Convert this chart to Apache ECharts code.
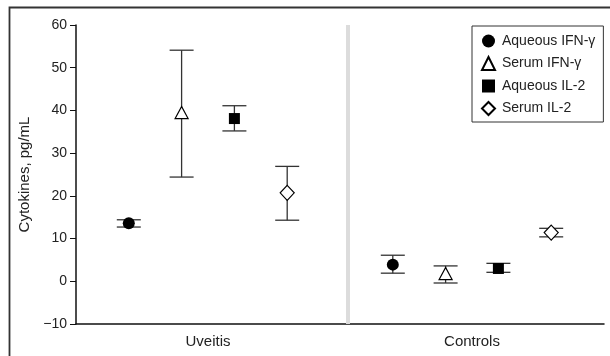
<!DOCTYPE html>
<html><head><meta charset="utf-8">
<script src="https://cdn.jsdelivr.net/npm/echarts@6/dist/echarts.min.js"></script>
<style>html,body{margin:0;padding:0;background:#fff}#c{width:610px;height:356px}</style>
</head><body><div id="c"></div>
<script>
// ---- data ----
const categories = ['Uveitis', 'Controls'];
const seriesNames = ['Aqueous IFN-\u03B3', 'Serum IFN-\u03B3', 'Aqueous IL-2', 'Serum IL-2'];
const aqueousIfnMean = [13.6, 3.9];
const aqueousIfnLow  = [12.7, 1.9];
const aqueousIfnHigh = [14.4, 6.1];
const serumIfnMean = [39.5, 1.8];
const serumIfnLow  = [24.4, -0.4];
const serumIfnHigh = [54.1, 3.6];
const aqueousIl2Mean = [38.1, 3.0];
const aqueousIl2Low  = [35.2, 2.1];
const aqueousIl2High = [41.1, 4.2];
const serumIl2Mean = [20.7, 11.4];
const serumIl2Low  = [14.3, 10.4];
const serumIl2High = [26.9, 12.4];
const yTicks = [-10, 0, 10, 20, 30, 40, 50, 60];

// ---- chart ----
const FONT = "'Liberation Sans Narrow', 'Arial Narrow', 'Liberation Sans', sans-serif";
const groups = [
  {mean: aqueousIfnMean, low: aqueousIfnLow, high: aqueousIfnHigh, symbol: 'circle', size: 12, fill: '#000'},
  {mean: serumIfnMean, low: serumIfnLow, high: serumIfnHigh, symbol: 'triangle', size: [13, 12], fill: '#fff'},
  {mean: aqueousIl2Mean, low: aqueousIl2Low, high: aqueousIl2High, symbol: 'rect', size: 11, fill: '#000'},
  {mean: serumIl2Mean, low: serumIl2Low, high: serumIl2High, symbol: 'diamond', size: [14, 15], fill: '#fff'}
];
const offsets = [-0.3, -0.1, 0.1, 0.3];
const series = [];
groups.forEach((g, i) => {
  const xs = categories.map((c, ci) => ci + 0.5 + offsets[i]);
  series.push({
    type: 'custom', xAxisIndex: 1, yAxisIndex: 0, z: 2, silent: true,
    data: xs.map((x, ci) => [x, g.low[ci], g.high[ci]]),
    encode: {x: 0, y: [1, 2]},
    renderItem(params, api) {
      const x = api.value(0);
      const lo = api.coord([x, api.value(1)]);
      const hi = api.coord([x, api.value(2)]);
      const hw = 12;
      const st = {stroke: '#333', lineWidth: 1.3};
      return {type: 'group', children: [
        {type: 'line', shape: {x1: lo[0], y1: lo[1], x2: hi[0], y2: hi[1]}, style: st},
        {type: 'line', shape: {x1: lo[0] - hw, y1: lo[1], x2: lo[0] + hw, y2: lo[1]}, style: st},
        {type: 'line', shape: {x1: hi[0] - hw, y1: hi[1], x2: hi[0] + hw, y2: hi[1]}, style: st}
      ]};
    }
  });
  series.push({
    name: seriesNames[i], type: 'scatter', xAxisIndex: 1, yAxisIndex: 0, z: 5,
    symbol: g.symbol, symbolSize: g.size,
    itemStyle: {color: g.fill, borderColor: '#000', borderWidth: g.fill === '#fff' ? 1.2 : 0, opacity: 1},
    data: xs.map((x, ci) => [x, g.mean[ci]]),
    markLine: i === 0 ? {
      silent: true, symbol: 'none', label: {show: false},
      lineStyle: {color: '#dcdcdc', width: 4, type: 'solid'},
      data: [{xAxis: 1.03}]
    } : undefined
  });
});

const chart = echarts.init(document.getElementById('c'), null, {renderer: 'canvas'});
chart.setOption({
  animation: false,
  backgroundColor: '#fff',
  textStyle: {fontFamily: FONT},
  graphic: [{type: 'rect', shape: {x: 9.5, y: 7.5, width: 800, height: 600}, style: {fill: 'none', stroke: '#333', lineWidth: 1.8}, silent: true}],
  grid: {left: 76, right: 6, top: 25, bottom: 32, containLabel: false},
  legend: {
    orient: 'vertical', left: 472, top: 26,
    data: seriesNames,
    itemWidth: 13, itemHeight: 13, itemGap: 8,
    padding: [8, 8, 6, 9],
    borderColor: '#333', borderWidth: 1, backgroundColor: '#fff',
    textStyle: {fontFamily: FONT, fontSize: 14, color: '#222', padding: [0, 0, 0, 2]}
  },
  xAxis: [
    {type: 'category', data: categories, gridIndex: 0,
      axisLine: {onZero: false, lineStyle: {color: '#111', width: 1.5}}, axisTick: {show: false},
      axisLabel: {fontFamily: FONT, fontSize: 15, color: '#222', margin: 10}},
    {type: 'value', min: 0, max: 2, gridIndex: 0, show: false}
  ],
  yAxis: [{
    type: 'value', min: yTicks[0], max: yTicks[yTicks.length - 1], interval: 10,
    name: 'Cytokines, pg/mL', nameLocation: 'middle', nameGap: 41,
    nameTextStyle: {fontFamily: FONT, fontSize: 15, color: '#222'},
    axisLine: {show: true, lineStyle: {color: '#111', width: 1.5}},
    axisTick: {show: true, inside: false, length: 6, lineStyle: {color: '#111'}},
    axisLabel: {fontFamily: FONT, fontSize: 14, color: '#222', margin: 9,
      formatter: v => (v < 0 ? '\u2212' + Math.abs(v) : String(v))},
    splitLine: {show: false}
  }],
  series: series
});
</script></body></html>
